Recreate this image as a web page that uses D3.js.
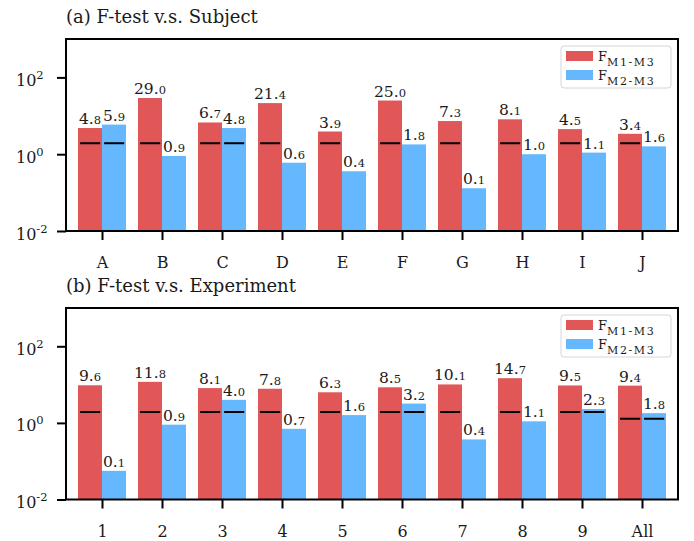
<!DOCTYPE html>
<html>
<head>
<meta charset="utf-8">
<script src="https://cdn.jsdelivr.net/npm/d3@7/dist/d3.min.js"></script>
<style>
  html, body { margin: 0; padding: 0; background: #fff; }
  svg { display: block; }
  text { font-family: "DejaVu Serif", "Liberation Serif", serif; fill: #1a1a1a; }
</style>
</head>
<body>
<svg id="chart" width="694" height="541"></svg>
<script>
// Panel (a): F statistics per subject
const subjects = ["A", "B", "C", "D", "E", "F", "G", "H", "I", "J"];
const subjectM1M3 = [4.8, 29.0, 6.7, 21.4, 3.9, 25.0, 7.3, 8.1, 4.5, 3.4];
const subjectM2M3 = [5.9, 0.9, 4.8, 0.6, 0.36, 1.8, 0.13, 1.0, 1.1, 1.6];
const subjectCritical = [1.93, 1.93, 1.93, 1.93, 1.93, 1.93, 1.93, 1.93, 1.93, 1.93];

// Panel (b): F statistics per experiment
const experiments = ["1", "2", "3", "4", "5", "6", "7", "8", "9", "All"];
const experimentM1M3 = [9.6, 11.8, 8.1, 7.8, 6.3, 8.5, 10.1, 14.7, 9.5, 9.4];
const experimentM2M3 = [0.056, 0.9, 4.0, 0.7, 1.6, 3.2, 0.37, 1.1, 2.3, 1.8];
const experimentCritical = [1.93, 1.93, 1.93, 1.93, 1.93, 1.93, 1.93, 1.93, 1.93, 1.29];

const yTicks = [1e-2, 1e0, 1e2];
const yExponents = ["-2", "0", "2"];
const seriesNames = ["M1-M3", "M2-M3"];
const colors = ["#e15656", "#66b8fe"];

const svg = d3.select("#chart");
const left = 66, right = 678;

function panel(cfg) {
  const { title, cats, m1, m2, crit, top, bottom, titleY, clipId } = cfg;
  const x = d3.scaleLinear().domain([-0.6, cats.length - 0.4]).range([left, right]);
  const y = d3.scaleLog().domain([1e-2, 1e3]).range([bottom, top]);
  const barW = 0.4;

  const g = svg.append("g");

  g.append("text")
    .attr("x", left).attr("y", titleY)
    .style("font-size", "18px")
    .text(title);

  g.append("clipPath").attr("id", clipId)
    .append("rect").attr("x", left).attr("y", top)
    .attr("width", right - left).attr("height", bottom - top);

  const plot = g.append("g").attr("clip-path", `url(#${clipId})`);

  const series = [m1, m2];
  series.forEach((vals, s) => {
    const x0 = i => x(i - barW + s * barW);
    plot.selectAll(null).data(vals).enter().append("rect")
      .attr("x", (d, i) => x0(i))
      .attr("width", x(barW) - x(0))
      .attr("y", d => y(d))
      .attr("height", d => bottom + 5 - y(d))
      .attr("fill", colors[s]);

    // critical-value marker on bars that exceed it
    plot.selectAll(null).data(vals.map((d, i) => ({ d, i })).filter(o => o.d > crit[o.i]))
      .enter().append("line")
      .attr("x1", o => x(o.i - barW + s * barW + 0.035))
      .attr("x2", o => x(o.i + s * barW - 0.03))
      .attr("y1", o => y(crit[o.i]))
      .attr("y2", o => y(crit[o.i]))
      .attr("stroke", "#000").attr("stroke-width", 2);

    // value labels: integer part full size, decimal digit smaller
    const lbl = g.selectAll(null).data(vals).enter().append("text")
      .attr("x", (d, i) => x(i - barW / 2 + s * barW))
      .attr("y", d => y(d) - 4)
      .attr("text-anchor", "middle");
    lbl.each(function (d) {
      const str = d3.format(".1f")(d);
      const [ip, dp] = str.split(".");
      const t = d3.select(this);
      t.append("tspan").style("font-size", "15.5px").text(ip + ".");
      t.append("tspan").style("font-size", "11.5px").text(dp);
    });
  });

  // y axis
  const ya = g.append("g").attr("transform", `translate(${left},0)`)
    .call(d3.axisLeft(y).tickValues(yTicks).tickSize(9).tickFormat(""));
  ya.select(".domain").remove();
  ya.selectAll(".tick line").attr("stroke", "#000").attr("stroke-width", 2);
  ya.selectAll(".tick").each(function (d, i) {
    const t = d3.select(this).append("text")
      .attr("x", 16 - left).attr("y", 8)
      .attr("text-anchor", "start").attr("fill", "#1a1a1a");
    t.append("tspan").style("font-size", "16px").text("10");
    t.append("tspan").attr("dy", -7).style("font-size", "11.5px").text(yExponents[i]);
  });

  // x axis
  const xa = g.append("g").attr("transform", `translate(0,${bottom})`)
    .call(d3.axisBottom(x).tickValues(d3.range(cats.length)).tickSize(9)
      .tickFormat(i => cats[i]));
  xa.select(".domain").remove();
  xa.selectAll(".tick line").attr("stroke", "#000").attr("stroke-width", 2);
  xa.selectAll(".tick text").attr("y", 0).attr("dy", 37)
    .style("font-size", "16px").attr("fill", "#1a1a1a").attr("font-family", null);

  // frame
  g.append("rect").attr("x", left).attr("y", top)
    .attr("width", right - left).attr("height", bottom - top)
    .attr("fill", "none").attr("stroke", "#000").attr("stroke-width", 2);

  // legend
  const lg = g.append("g").attr("transform", `translate(561,${top + 7})`);
  lg.append("rect").attr("width", 110).attr("height", 42).attr("rx", 3)
    .attr("fill", "#fff").attr("fill-opacity", 0.8)
    .attr("stroke", "#d6d6d6").attr("stroke-width", 1);
  seriesNames.forEach((name, s) => {
    lg.append("rect").attr("x", 5).attr("y", 5 + s * 19)
      .attr("width", 27).attr("height", 10).attr("fill", colors[s]);
    const t = lg.append("text").attr("x", 37).attr("y", 15 + s * 19);
    t.append("tspan").style("font-size", "13px").text("F");
    t.append("tspan").attr("dy", 5).style("font-size", "11px")
      .style("letter-spacing", "1.6px").text(name);
  });
}

panel({
  title: "(a) F-test v.s. Subject", cats: subjects,
  m1: subjectM1M3, m2: subjectM2M3, crit: subjectCritical,
  top: 39, bottom: 231, titleY: 23, clipId: "clipA"
});
panel({
  title: "(b) F-test v.s. Experiment", cats: experiments,
  m1: experimentM1M3, m2: experimentM2M3, crit: experimentCritical,
  top: 308, bottom: 499.5, titleY: 292, clipId: "clipB"
});
</script>
</body>
</html>
